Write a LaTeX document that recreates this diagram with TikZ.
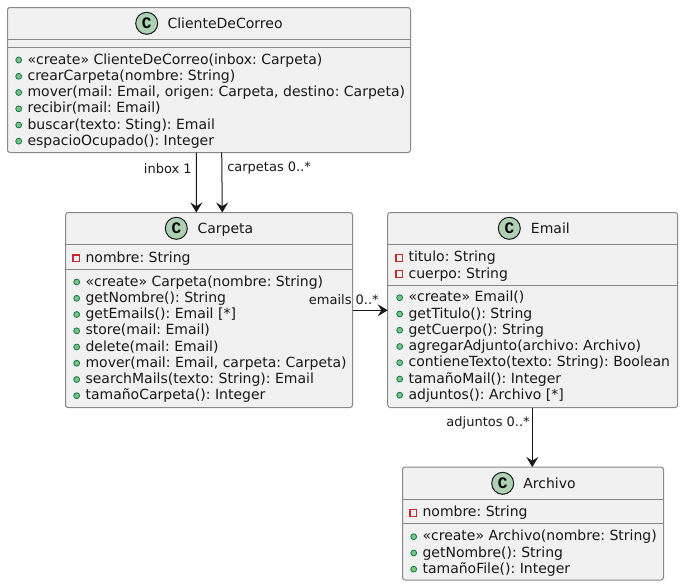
\documentclass[tikz,border=0pt]{standalone}
\usepackage{fontspec}
\setmainfont{DejaVu Sans}
\newfontfamily\glyphfont{Liberation Mono}[BoldFont={Liberation Mono Bold}]
\usetikzlibrary{arrows.meta}
\definecolor{boxfill}{HTML}{F1F1F1}
\definecolor{boxline}{HTML}{888888}
\definecolor{ink}{HTML}{181818}
\definecolor{headfill}{HTML}{ADD1B2}
\definecolor{pubfill}{HTML}{84BE84}
\definecolor{publine}{HTML}{038048}
\definecolor{privline}{HTML}{C82930}
\tikzset{
  umlbox/.style={draw=boxline,fill=boxfill,line width=0.75pt,rounded corners=1.9pt,inner sep=0pt,outer sep=0pt},
  divider/.style={draw=boxline,line width=0.75pt},
  headmark/.style={circle,draw=ink,fill=headfill,line width=0.75pt,minimum size=16.5pt,inner sep=0pt,font=\glyphfont\bfseries\fontsize{12}{12}\selectfont},
  titletext/.style={anchor=base west,inner sep=0pt,text=ink,font=\fontsize{10.5}{12}\selectfont\frenchspacing},
  membertext/.style={anchor=base west,inner sep=0pt,text=ink,font=\fontsize{10.5}{12}\selectfont\frenchspacing},
  pubmark/.style={circle,draw=publine,fill=pubfill,line width=0.6pt,minimum size=4.4pt,inner sep=0pt},
  privmark/.style={rectangle,draw=privline,fill=none,line width=0.8pt,minimum size=5pt,inner sep=0pt},
  assoc/.style={draw=ink,line width=0.75pt,-{Stealth[length=7.5pt,width=9pt,inset=2.8pt]}},
  linklabel/.style={inner sep=0pt,text=ink,font=\fontsize{9.75}{12}\selectfont\frenchspacing},
}
\newcommand{\pubrow}[4]{%
  \node[pubmark] (#1m) at (#2-8.6,#3-4.0) {};
  \node[membertext] (#1) at (#2,#3) {#4};}
\newcommand{\privrow}[4]{%
  \node[privmark] (#1m) at (#2-9,#3-4.0) {};
  \node[membertext] (#1) at (#2,#3) {#4};}
\begin{document}
\begin{tikzpicture}[x=0.75pt,y=-0.75pt]
\useasboundingbox (0,0) rectangle (683,586);
% boxes
\node[umlbox,minimum width=302.25pt,minimum height=108.75pt] (cliente) at (209,80) {};
\node[umlbox,minimum width=215.25pt,minimum height=146.25pt] (carpeta) at (209,310) {};
\node[umlbox,minimum width=217.5pt,minimum height=146.25pt] (email) at (532.7,310) {};
\node[umlbox,minimum width=195.75pt,minimum height=84.75pt] (archivo) at (533,523.5) {};
% dividers
\coordinate (l1) at (0,39.5);
\coordinate (l2) at (0,47.5);
\coordinate (l3) at (0,244.5);
\coordinate (l4) at (0,269.5);
\coordinate (l5) at (0,285.5);
\coordinate (l6) at (0,499.5);
\coordinate (l7) at (0,523.5);
\draw[divider] (cliente.west |- l1) -- (cliente.east |- l1);
\draw[divider] (cliente.west |- l2) -- (cliente.east |- l2);
\draw[divider] (carpeta.west |- l3) -- (carpeta.east |- l3);
\draw[divider] (carpeta.west |- l4) -- (carpeta.east |- l4);
\draw[divider] (email.west |- l3) -- (email.east |- l3);
\draw[divider] (email.west |- l5) -- (email.east |- l5);
\draw[divider] (archivo.west |- l6) -- (archivo.east |- l6);
\draw[divider] (archivo.west |- l7) -- (archivo.east |- l7);
% headers
\node[headmark] (hc) at (146.7,23.3) {C};
\node[titletext] (tc) at (167.3,28.3) {ClienteDeCorreo};
\node[headmark] (hp) at (176.3,228.3) {C};
\node[titletext] (tp) at (197.3,233.3) {Carpeta};
\node[headmark] (he) at (509.3,228.3) {C};
\node[titletext] (te) at (530.7,233.3) {Email};
\node[headmark] (ha) at (502.7,483.3) {C};
\node[titletext] (ta) at (523,488.3) {Archivo};
% ClienteDeCorreo
\pubrow{c1}{27.3}{64}{«create» ClienteDeCorreo(inbox: Carpeta)}
\pubrow{c2}{27.3}{80.3}{crearCarpeta(nombre: String)}
\pubrow{c3}{27.3}{96.5}{mover(mail: Email, origen: Carpeta, destino: Carpeta)}
\pubrow{c4}{27.3}{112.8}{recibir(mail: Email)}
\pubrow{c5}{27.3}{129}{buscar(texto: Sting): Email}
\pubrow{c6}{27.3}{145.2}{espacioOcupado(): Integer}
% Carpeta
\privrow{p0}{85.3}{262.3}{nombre: String}
\pubrow{p1}{85.3}{286}{«create» Carpeta(nombre: String)}
\pubrow{p2}{85.3}{302.3}{getNombre(): String}
\pubrow{p3}{85.3}{318.5}{getEmails(): Email [*]}
\pubrow{p4}{85.3}{334.8}{store(mail: Email)}
\pubrow{p5}{85.3}{351}{delete(mail: Email)}
\pubrow{p6}{85.3}{367.2}{mover(mail: Email, carpeta: Carpeta)}
\pubrow{p7}{85.3}{383.5}{searchMails(texto: String): Email}
\pubrow{p8}{85.3}{399.7}{tamañoCarpeta(): Integer}
% Email
\privrow{e0}{408.3}{261.7}{titulo: String}
\privrow{e1}{408.3}{278}{cuerpo: String}
\pubrow{e2}{408.3}{301.7}{«create» Email()}
\pubrow{e3}{408.3}{318}{getTitulo(): String}
\pubrow{e4}{408.3}{334.2}{getCuerpo(): String}
\pubrow{e5}{408.3}{350.5}{agregarAdjunto(archivo: Archivo)}
\pubrow{e6}{408.3}{366.7}{contieneTexto(texto: String): Boolean}
\pubrow{e7}{408.3}{383}{tamañoMail(): Integer}
\pubrow{e8}{408.3}{399.2}{adjuntos(): Archivo [*]}
% Archivo
\privrow{a0}{422.3}{516.7}{nombre: String}
\pubrow{a1}{422.3}{540.7}{«create» Archivo(nombre: String)}
\pubrow{a2}{422.3}{557}{getNombre(): String}
\pubrow{a3}{422.3}{573.2}{tamañoFile(): Integer}
% connectors
\coordinate (xa) at (196.5,0);
\coordinate (xb) at (196.3,0);
\coordinate (xc) at (221.7,0);
\coordinate (xd) at (222.3,0);
\coordinate (ya) at (0,310.3);
\coordinate (xe) at (532.3,0);
\draw[assoc] (cliente.south -| xa) -- (carpeta.north -| xb);
\draw[assoc] (cliente.south -| xc) -- (carpeta.north -| xd);
\draw[assoc] (carpeta.east |- ya) -- (email.west |- ya);
\draw[assoc] (email.south -| xe) -- (archivo.north -| xe);
% connector labels
\node[linklabel,anchor=east] (l-inbox) at (192,168.5) {inbox 1};
\node[linklabel,anchor=west] (l-carpetas) at (227,168.5) {carpetas 0..*};
\node[linklabel,anchor=east] (l-emails) at (379,300) {emails 0..*};
\node[linklabel,anchor=east] (l-adjuntos) at (530,423) {adjuntos 0..*};
\end{tikzpicture}
\end{document}
